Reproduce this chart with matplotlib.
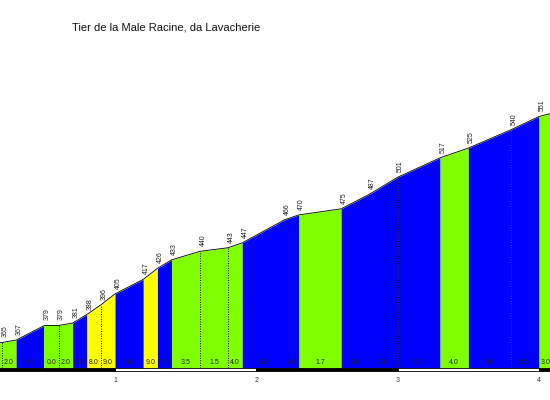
import matplotlib
matplotlib.use("Agg")
import matplotlib.pyplot as plt
import matplotlib.transforms as mtransforms
from matplotlib.patches import Rectangle

plt.rcParams['font.family'] = ['Liberation Sans', 'DejaVu Sans']

# ----- profile data -----
TITLE = "Tier de la Male Racine, da Lavacherie"
dist_km = [0.1, 0.2, 0.3, 0.5, 0.6, 0.7, 0.8, 0.9, 1.0, 1.2, 1.3, 1.4, 1.6,
           1.8, 1.9, 2.2, 2.3, 2.6, 2.8, 3.0, 3.3, 3.5, 3.8, 4.0, 4.1]
elev_m = [364, 365, 367, 379, 379, 381, 388, 396, 405, 417, 426, 433, 440,
          443, 447, 466, 470, 475, 487, 501, 517, 525, 540, 551, 554]
grade_pct = ["1.0", "2.0", "6.0", "0.0", "2.0", "7.0", "8.0", "9.0", "6.0",
             "9.0", "7.0", "3.5", "1.5", "4.0", "6.3", "4.0", "1.7", "6.0",
             "7.0", "5.3", "4.0", "5.0", "5.5", "3.0"]
seg_class = ["g", "g", "b", "g", "g", "b", "y", "y", "b", "y", "b", "g", "g",
             "g", "b", "b", "g", "b", "b", "b", "g", "b", "b", "g"]
km_bars = [0, 1, 2, 3, 4]
km_labels = [1, 2, 3, 4]

COLORS = {"g": "#80ff00", "b": "#0000ff", "y": "#ffff00"}
BASE = 344

fig = plt.figure(figsize=(5.5, 4), dpi=100)
ax = fig.add_axes([0, 0.08, 1, 0.77])
ax.set_xlim(0.186, 4.078)
ax.set_ylim(BASE, 597.5)
ax.axis("off")

# coloured segments
for i in range(len(grade_pct)):
    x0, x1 = dist_km[i], dist_km[i + 1]
    ax.fill_between([x0, x1], [elev_m[i], elev_m[i + 1]], BASE,
                    color=COLORS[seg_class[i]], linewidth=0)
    # dotted separators between same-coloured segments
    if i > 0 and seg_class[i] == seg_class[i - 1]:
        ax.plot([x0, x0], [BASE, elev_m[i]], color="black", lw=0.7,
                linestyle=(0, (1, 1.5)))
    ax.annotate(grade_pct[i], xy=((x0 + x1) / 2, BASE), xytext=(0, 3.6),
                textcoords="offset points", ha="center", va="center",
                fontsize=5, color="#202020")

ax.plot(dist_km, elev_m, color="black", lw=0.6)

# elevation labels
for d, e in zip(dist_km, elev_m):
    ax.annotate(str(e), xy=(d, e), xytext=(2.2, 3.6),
                textcoords="offset points", rotation=90,
                ha="center", va="bottom", fontsize=5, color="#202020")

# km scale bar under the profile
trans = mtransforms.blended_transform_factory(ax.transData, ax.transAxes)
bar_h = 3 / 308
for k in km_bars:
    fill = "black" if k % 2 == 0 else "white"
    ax.add_patch(Rectangle((k, -bar_h - 0.001), 1, bar_h,
                           transform=trans, facecolor=fill,
                           edgecolor="black", lw=0.6, clip_on=False))
for k in km_labels:
    ax.text(k, -0.04, str(k), transform=trans, ha="center", va="center",
            fontsize=5, color="#333333", clip_on=False)

fig.text(0.131, 0.9325, TITLE, ha="left", va="center", fontsize=8,
         color="#111111")

fig.savefig("out.png", dpi=100)
